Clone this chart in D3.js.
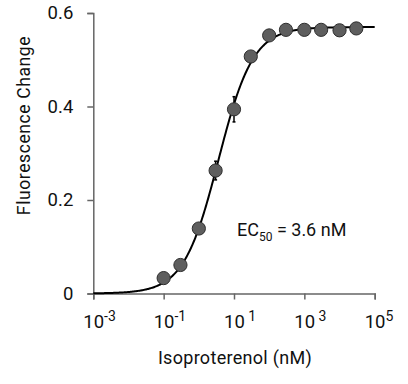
<!DOCTYPE html>
<html>
<head>
<meta charset="utf-8">
<script src="https://cdn.jsdelivr.net/npm/d3@7"></script>
<style>
  html, body { margin: 0; padding: 0; background: #fff; }
  svg { display: block; font-family: Roboto, "Noto Sans", sans-serif; }
</style>
</head>
<body>
<svg id="chart" width="408" height="384"></svg>
<script>
// ---- data ----
const concentrations = [0.1, 0.3, 1, 3, 10, 30, 100, 300, 1000, 3000, 10000, 30000];
const fluorescence   = [0.033, 0.061, 0.139, 0.263, 0.394, 0.507, 0.552, 0.564, 0.564, 0.564, 0.563, 0.567];
const errors         = [0.006, 0.006, 0.006, 0.02, 0.027, 0.008, 0.006, 0.005, 0.005, 0.005, 0.005, 0.005];
const xTickValues    = [1e-3, 1e-1, 1e1, 1e3, 1e5];
const xTickExponents = ["-3", "-1", "\u00a01", "\u00a03", "5"];
const yTickValues    = [0, 0.2, 0.4, 0.6];
const yTickLabels    = ["0", "0.2", "0.4", "0.6"];
// Hill fit parameters
const fitBottom = 0, fitTop = 0.57, fitEC50 = 3.6, fitHill = 0.88;
const xLabel = "Isoproterenol (nM)";
const yLabel = "Fluorescence Change";

const svg = d3.select("#chart");
const x = d3.scaleLog().domain([1e-3, 1e5]).range([93.3, 374.7]);
const y = d3.scaleLinear().domain([0, 0.6]).range([293.5, 13]);
const axisColor = "#666";

// y axis
const yAxis = svg.append("g").attr("transform", `translate(${x.range()[0]},0)`)
  .call(d3.axisLeft(y).tickValues(yTickValues).tickFormat((d,i) => yTickLabels[i]).tickSizeOuter(0).tickSize(6).tickPadding(14));
yAxis.select(".domain").attr("stroke", axisColor).attr("stroke-width", 1.5);
yAxis.selectAll(".tick line").attr("stroke", axisColor).attr("stroke-width", 1.5);
yAxis.selectAll(".tick text").attr("font-size", 18.5).attr("fill", "#111").attr("font-family", "Roboto");

// x axis
const xAxis = svg.append("g").attr("transform", `translate(0,${y(0)})`)
  .call(d3.axisBottom(x).tickValues(xTickValues).tickFormat(() => "").tickSizeOuter(0).tickSize(6));
xAxis.select(".domain").attr("stroke", axisColor).attr("stroke-width", 1.5);
xAxis.selectAll(".tick line").attr("stroke", axisColor).attr("stroke-width", 1.5);
xAxis.selectAll(".tick").each(function(d, i) {
  const t = d3.select(this).append("text")
    .attr("y", 34.5).attr("fill", "#111").attr("font-size", 18.5)
    .attr("text-anchor", "start").attr("x", -10.5).attr("font-family", "Roboto");
  t.append("tspan").text("10");
  t.append("tspan").attr("dy", -7).attr("font-size", 14).text(xTickExponents[i]);
});

// axis titles
svg.append("text").attr("x", 235).attr("y", 364)
  .attr("text-anchor", "middle").attr("font-size", 18).attr("letter-spacing", 0.3).attr("fill", "#111").text(xLabel);
svg.append("text").attr("transform", `translate(29.5,125.5) rotate(-90)`)
  .attr("text-anchor", "middle").attr("font-size", 17.5).attr("letter-spacing", 0.6).attr("fill", "#111").text(yLabel);

// fitted curve
const hill = c => fitBottom + (fitTop - fitBottom) / (1 + Math.pow(fitEC50 / c, fitHill));
const curveX = d3.range(-3, 5.0001, 0.02).map(e => Math.pow(10, e));
svg.append("path").datum(curveX)
  .attr("fill", "none").attr("stroke", "#000").attr("stroke-width", 2)
  .attr("d", d3.line().x(c => x(c)).y(c => y(hill(c))));

// error bars
const pts = concentrations.map((c, i) => ({ c, v: fluorescence[i], e: errors[i] }));
const eb = svg.append("g").attr("stroke", "#000").attr("stroke-width", 1.5);
eb.selectAll("line.v").data(pts).join("line")
  .attr("x1", d => x(d.c)).attr("x2", d => x(d.c))
  .attr("y1", d => y(d.v - d.e)).attr("y2", d => y(d.v + d.e));
eb.selectAll("line.t").data(pts).join("line")
  .attr("x1", d => x(d.c) - 1.5).attr("x2", d => x(d.c) + 1.5)
  .attr("y1", d => y(d.v + d.e)).attr("y2", d => y(d.v + d.e));
eb.selectAll("line.b").data(pts).join("line")
  .attr("x1", d => x(d.c) - 1.5).attr("x2", d => x(d.c) + 1.5)
  .attr("y1", d => y(d.v - d.e)).attr("y2", d => y(d.v - d.e));

// points
svg.append("g").selectAll("circle").data(pts).join("circle")
  .attr("cx", d => x(d.c)).attr("cy", d => y(d.v)).attr("r", 6.6)
  .attr("fill", "#5e5e5e").attr("stroke", "#2e2e2e").attr("stroke-width", 1);

// EC50 annotation
const ann = svg.append("text").attr("x", 237).attr("y", 236).attr("font-size", 18).attr("fill", "#111");
ann.append("tspan").text("EC");
ann.append("tspan").attr("dy", 5).attr("font-size", 12).text("50");
ann.append("tspan").attr("dy", -5).text(" = 3.6 nM");
</script>
</body>
</html>
